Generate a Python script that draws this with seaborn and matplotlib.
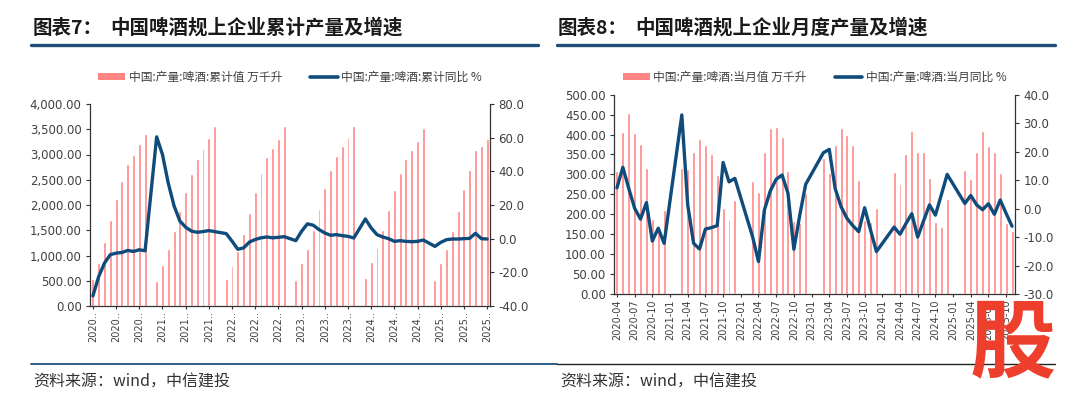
import numpy as np
import pandas as pd
import matplotlib
matplotlib.use("Agg")
import matplotlib.pyplot as plt
import seaborn as sns
from matplotlib.patches import Patch
from matplotlib.lines import Line2D

# ---- data: cumulative (left chart), 2020-03 .. 2025-11, Jan has no value ----
cum_2020 = [535, 860, 1265, 1705, 2110, 2485, 2805, 2995, 3200, 3400]          # Mar-Dec
cum_2021 = [None, 500, 820, 1135, 1490, 1880, 2265, 2620, 2915, 3115, 3320, 3560]
cum_2022 = [None, 530, 800, 1090, 1430, 1845, 2260, 2630, 2950, 3120, 3310, 3570]
cum_2023 = [None, 516, 846, 1124, 1507, 1917, 2327, 2697, 2975, 3174, 3339, 3557]
cum_2024 = [None, 562, 873, 1144, 1507, 1904, 2301, 2631, 2916, 3094, 3273, 3515]
cum_2025 = [None, 516, 846, 1124, 1494, 1891, 2321, 2697, 3080, 3160, 3310]     # Jan-Nov

cum_yoy_2020 = [-34.0, -22.5, -14.5, -9.5, -8.6, -8.2, -7.0, -7.6, -6.6, -7.2]
cum_yoy_2021 = [None, 60.5, 50.0, 33.0, 19.5, 10.5, 6.8, 4.5, 3.8, 4.2, 4.8, 4.2]
cum_yoy_2022 = [None, 3.0, -1.5, -6.3, -5.5, -2.0, -0.5, 0.5, 1.0, 0.5, 0.8, 1.2]
cum_yoy_2023 = [None, -1.2, 4.4, 8.8, 8.0, 5.4, 3.4, 2.0, 2.4, 1.8, 1.4, 0.4]
cum_yoy_2024 = [None, 11.7, 6.4, 2.4, 1.0, 0.0, -1.6, -1.2, -1.6, -1.8, -1.6, -0.8]
cum_yoy_2025 = [None, -4.6, -2.2, -0.6, -0.2, -0.2, 0.0, 0.2, 3.2, 0.0, -0.2]

# ---- data: monthly (right chart), 2020-04 .. 2025-11, Jan/Feb have no value ----
mon_2020 = [309, 406, 454, 405, 376, 315, 187, 170, 211]                        # Apr-Dec
mon_2021 = [None, None, 315, 314, 357, 390, 375, 351, 298, 217, 186, 235]
mon_2022 = [None, None, 283, 257, 355, 417, 419, 393, 309, 184, 179, 254]
mon_2023 = [None, None, 342, 304, 374, 417, 400, 374, 285, 186, 180, 215]
mon_2024 = [None, None, 305, 276, 351, 410, 357, 357, 290, 180, 168, 239]
mon_2025 = [None, None, 311, 288, 357, 410, 372, 355, 303, 179, 159]            # Jan-Nov

mon_yoy_2020 = [7.3, 14.5, 7.1, 0.1, -3.7, 2.1, -11.4, -6.9, -12.2]
mon_yoy_2021 = [None, None, 32.9, 1.3, -12.2, -14.2, -7.2, -6.7, -6.0, 16.2, 9.4, 10.6]
mon_yoy_2022 = [None, None, -9.9, -18.6, -0.5, 6.2, 10.3, 11.8, 5.4, -14.3, -2.3, 8.5]
mon_yoy_2023 = [None, None, 19.6, 20.8, 7.1, 0.7, -3.4, -6.0, -8.1, 0.3, -7.5, -15.1]
mon_yoy_2024 = [None, None, -6.5, -9.0, -5.3, -1.8, -10.0, -4.3, 1.3, -2.3, 4.8, 12.0]
mon_yoy_2025 = [None, None, 1.8, 4.6, 1.3, -0.4, 1.7, -2.0, 3.0, -1.7, -6.2]

left_months = pd.date_range("2020-03-01", "2025-11-01", freq="MS").strftime("%Y-%m").tolist()
right_months = pd.date_range("2020-04-01", "2025-11-01", freq="MS").strftime("%Y-%m").tolist()

def join(*parts):
    out = []
    for p in parts:
        out += p
    return np.array([np.nan if v is None else v for v in out], dtype=float)

left_df = pd.DataFrame({
    "month": left_months,
    "value": join(cum_2020, cum_2021, cum_2022, cum_2023, cum_2024, cum_2025),
    "yoy": join(cum_yoy_2020, cum_yoy_2021, cum_yoy_2022, cum_yoy_2023, cum_yoy_2024, cum_yoy_2025),
})
right_df = pd.DataFrame({
    "month": right_months,
    "value": join(mon_2020, mon_2021, mon_2022, mon_2023, mon_2024, mon_2025),
    "yoy": join(mon_yoy_2020, mon_yoy_2021, mon_yoy_2022, mon_yoy_2023, mon_yoy_2024, mon_yoy_2025),
})
left_df["pos"] = np.arange(len(left_df))
right_df["pos"] = np.arange(len(right_df))

# ---- style ----
sns.set_theme(style="ticks")
CJK = ["Noto Sans CJK SC", "DejaVu Sans"]
plt.rcParams["font.family"] = CJK
plt.rcParams["axes.unicode_minus"] = False

BAR = "#FF8585"
LINE = "#0F4C7C"
RULE = "#1F4E79"
TXT = "#404040"

fig = plt.figure(figsize=(10.8, 3.99), dpi=100)


def panel(rect, df, ymax, ystep, yfmt, r_lim, r_step, tick_every, tick_fmt,
          bar_label, line_label, legend_y):
    ax = fig.add_axes(rect)
    sns.barplot(data=df, x="month", y="value", order=df["month"].tolist(),
                color=BAR, width=0.5, errorbar=None, saturation=1, ax=ax)
    ax2 = ax.twinx()
    ok = df.dropna(subset=["yoy"])
    sns.lineplot(x=ok["pos"].values, y=ok["yoy"].values, ax=ax2, color=LINE,
                 linewidth=2.4, sort=False)
    n = len(df)
    ax.set_xlim(-0.5, n - 0.5)
    ax.set_ylim(0, ymax)
    ax.set_yticks(np.arange(0, ymax + 1, ystep))
    ax.set_yticklabels([yfmt(v) for v in np.arange(0, ymax + 1, ystep)])
    ax2.set_ylim(*r_lim)
    rt = np.arange(r_lim[0], r_lim[1] + 0.1, r_step)
    ax2.set_yticks(rt)
    ax2.set_yticklabels([f"{v:.1f}" for v in rt])
    ticks = list(range(0, n, tick_every))
    ax.set_xticks(ticks)
    ax.set_xticklabels([tick_fmt(df["month"].iloc[i]) for i in ticks], rotation=90)
    for a in (ax, ax2):
        a.set_xlabel("")
        a.set_ylabel("")
        for s in a.spines.values():
            s.set_color("#333333")
            s.set_linewidth(0.9)
        a.spines["top"].set_visible(False)
    ax.spines["right"].set_visible(False)
    ax2.spines["left"].set_visible(False)
    ax2.spines["bottom"].set_visible(False)
    ax.tick_params(axis="y", length=3, width=0.8, color="#333333", labelsize=8.5,
                   labelcolor=TXT, pad=3)
    ax2.tick_params(axis="y", length=3, width=0.8, color="#333333", labelsize=8.5,
                    labelcolor=TXT, pad=3)
    ax.tick_params(axis="x", length=2, width=0.8, color="#333333", labelsize=7,
                   labelcolor=TXT, pad=2)
    for lab in ax.get_yticklabels() + ax2.get_yticklabels() + ax.get_xticklabels():
        lab.set_fontfamily("DejaVu Sans")
    handles = [Patch(facecolor=BAR, edgecolor="none", label=bar_label),
               Line2D([0], [0], color=LINE, linewidth=2.6, label=line_label)]
    ax2.legend(handles=handles, loc="center", bbox_to_anchor=(0.5, legend_y), ncol=2,
               frameon=False, fontsize=8.5, handlelength=2.3, handleheight=0.5,
               handletextpad=0.3, columnspacing=2.4, labelcolor=TXT)
    return ax, ax2


panel([90 / 1080, 93 / 399, 400 / 1080, 202 / 399], left_df, 4000, 500,
      lambda v: f"{v:,.2f}", (-40, 80), 20, 4, lambda m: m[:4] + "..",
      "中国:产量:啤酒:累计值 万千升", "中国:产量:啤酒:累计同比 %", 1.134)

panel([614 / 1080, 105 / 399, 401 / 1080, 199.3 / 399], right_df, 500, 50,
      lambda v: f"{v:.2f}", (-30, 40), 10, 3, lambda m: m,
      "中国:产量:啤酒:当月值 万千升", "中国:产量:啤酒:当月同比 %", 1.089)

# ---- titles, rules, source notes ----
def fx(px):
    return px / 1080

def fy(py):
    return 1 - py / 399

fig.text(fx(33), fy(28), "图表7：", fontsize=14, fontweight="bold", va="center", color="#1a1a1a")
fig.text(fx(110), fy(28), "中国啤酒规上企业累计产量及增速", fontsize=14, fontweight="bold",
         va="center", color="#1a1a1a")
fig.text(fx(558), fy(28), "图表8：", fontsize=14, fontweight="bold", va="center", color="#1a1a1a")
fig.text(fx(635), fy(28), "中国啤酒规上企业月度产量及增速", fontsize=14, fontweight="bold",
         va="center", color="#1a1a1a")

fig.add_artist(Line2D([fx(31), fx(538)], [fy(45), fy(45)], color=RULE, linewidth=2.4,
                      transform=fig.transFigure))
fig.add_artist(Line2D([fx(557), fx(1055)], [fy(45), fy(45)], color=RULE, linewidth=2.4,
                      transform=fig.transFigure))
fig.add_artist(Line2D([fx(31), fx(557)], [fy(364), fy(364)], color=RULE, linewidth=1.3,
                      transform=fig.transFigure))
fig.add_artist(Line2D([fx(557), fx(1055)], [fy(364), fy(364)], color="#222222", linewidth=1.0,
                      transform=fig.transFigure))

fig.text(fx(33), fy(382), "资料来源：wind，中信建投", fontsize=11.5, va="center", color="#333333")
fig.text(fx(560), fy(382), "资料来源：wind，中信建投", fontsize=11.5, va="center", color="#333333")

# red watermark glyph at bottom right
fig.text(fx(1013), fy(345), "股", fontsize=62, fontweight="heavy", color="#EE3F2C",
         ha="center", va="center")

fig.savefig("out.png", dpi=100)
